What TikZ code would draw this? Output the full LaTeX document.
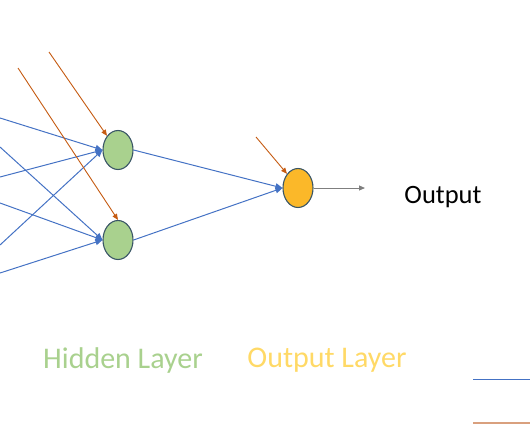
\documentclass[tikz,border=0pt]{standalone}
\usepackage{fontspec}
\setmainfont{Carlito}
\usetikzlibrary{arrows.meta,shapes.geometric}
\definecolor{pblue}{HTML}{4472C4}
\definecolor{porange}{HTML}{C55A11}
\definecolor{pgreen}{HTML}{A9D18E}
\definecolor{pgold}{HTML}{FBB829}
\definecolor{pyellow}{HTML}{FFD966}
\definecolor{pedge}{HTML}{3A5666}
\definecolor{pgray}{HTML}{7F7F7F}
\definecolor{plegor}{HTML}{D9A07E}
\tikzset{
  neuron/.style={ellipse, draw=pedge, line width=1.1pt, minimum width=30pt, minimum height=39pt, inner sep=0pt},
  hid/.style={neuron, fill=pgreen},
  outn/.style={neuron, fill=pgold},
  wline/.style={draw=pblue, line width=1pt, -{Triangle[length=7pt,width=6pt]}},
  bline/.style={draw=porange, line width=0.9pt, -{Triangle[length=6pt,width=5pt]}},
  oline/.style={draw=pgray, line width=1pt, -{Triangle[length=6pt,width=5pt]}},
  lab/.style={font=\fontsize{30}{30}\selectfont, inner sep=0pt}
}
\begin{document}
\begin{tikzpicture}[x=1pt,y=-1pt]
\useasboundingbox (0,0) rectangle (530,442);
\clip (0,0) rectangle (530,442);
\node[hid] (h1) at (118,150) {};
\node[hid] (h2) at (118,240) {};
\node[outn] (o) at (298,188) {};
% input edges (inputs lie outside the frame)
\coordinate (i1) at (0,118);
\coordinate (i2) at (0,147);
\coordinate (i3) at (0,177);
\coordinate (i4) at (0,203);
\coordinate (i5) at (0,245);
\coordinate (i6) at (0,273);
\draw[wline] (i1) -- (h1.west);
\draw[wline] (i3) -- (h1.west);
\draw[wline] (i5) -- (h1.west);
\draw[wline] (i2) -- (h2.west);
\draw[wline] (i4) -- (h2.west);
\draw[wline] (i6) -- (h2.west);
\draw[wline] (h1.east) -- (o.west);
\draw[wline] (h2.east) -- (o.west);
% biases
\coordinate (b1) at (49,52);
\coordinate (b2) at (18,68);
\coordinate (b3) at (256,137);
\draw[bline] (b1) -- (h1.north west);
\draw[bline] (b2) -- (h2.north);
\draw[bline] (b3) -- (o.north west);
% output
\coordinate (oe) at (365,188);
\draw[oline] (o.east) -- (oe);
\node[font=\fontsize{26.5}{26.5}\selectfont, inner sep=0pt] (otxt) at (443,197) {Output};
\node[lab, text=pgreen] (hl) at (123,360) {Hidden Layer};
\node[lab, text=pyellow] (ol) at (327,360) {Output Layer};
% legend lines
\coordinate (l1a) at (473,379);
\coordinate (l1b) at (531,379);
\coordinate (l2a) at (473,423);
\coordinate (l2b) at (531,423);
\draw[pblue, line width=1pt] (l1a) -- (l1b);
\draw[plegor, line width=1.5pt] (l2a) -- (l2b);
\end{tikzpicture}
\end{document}
